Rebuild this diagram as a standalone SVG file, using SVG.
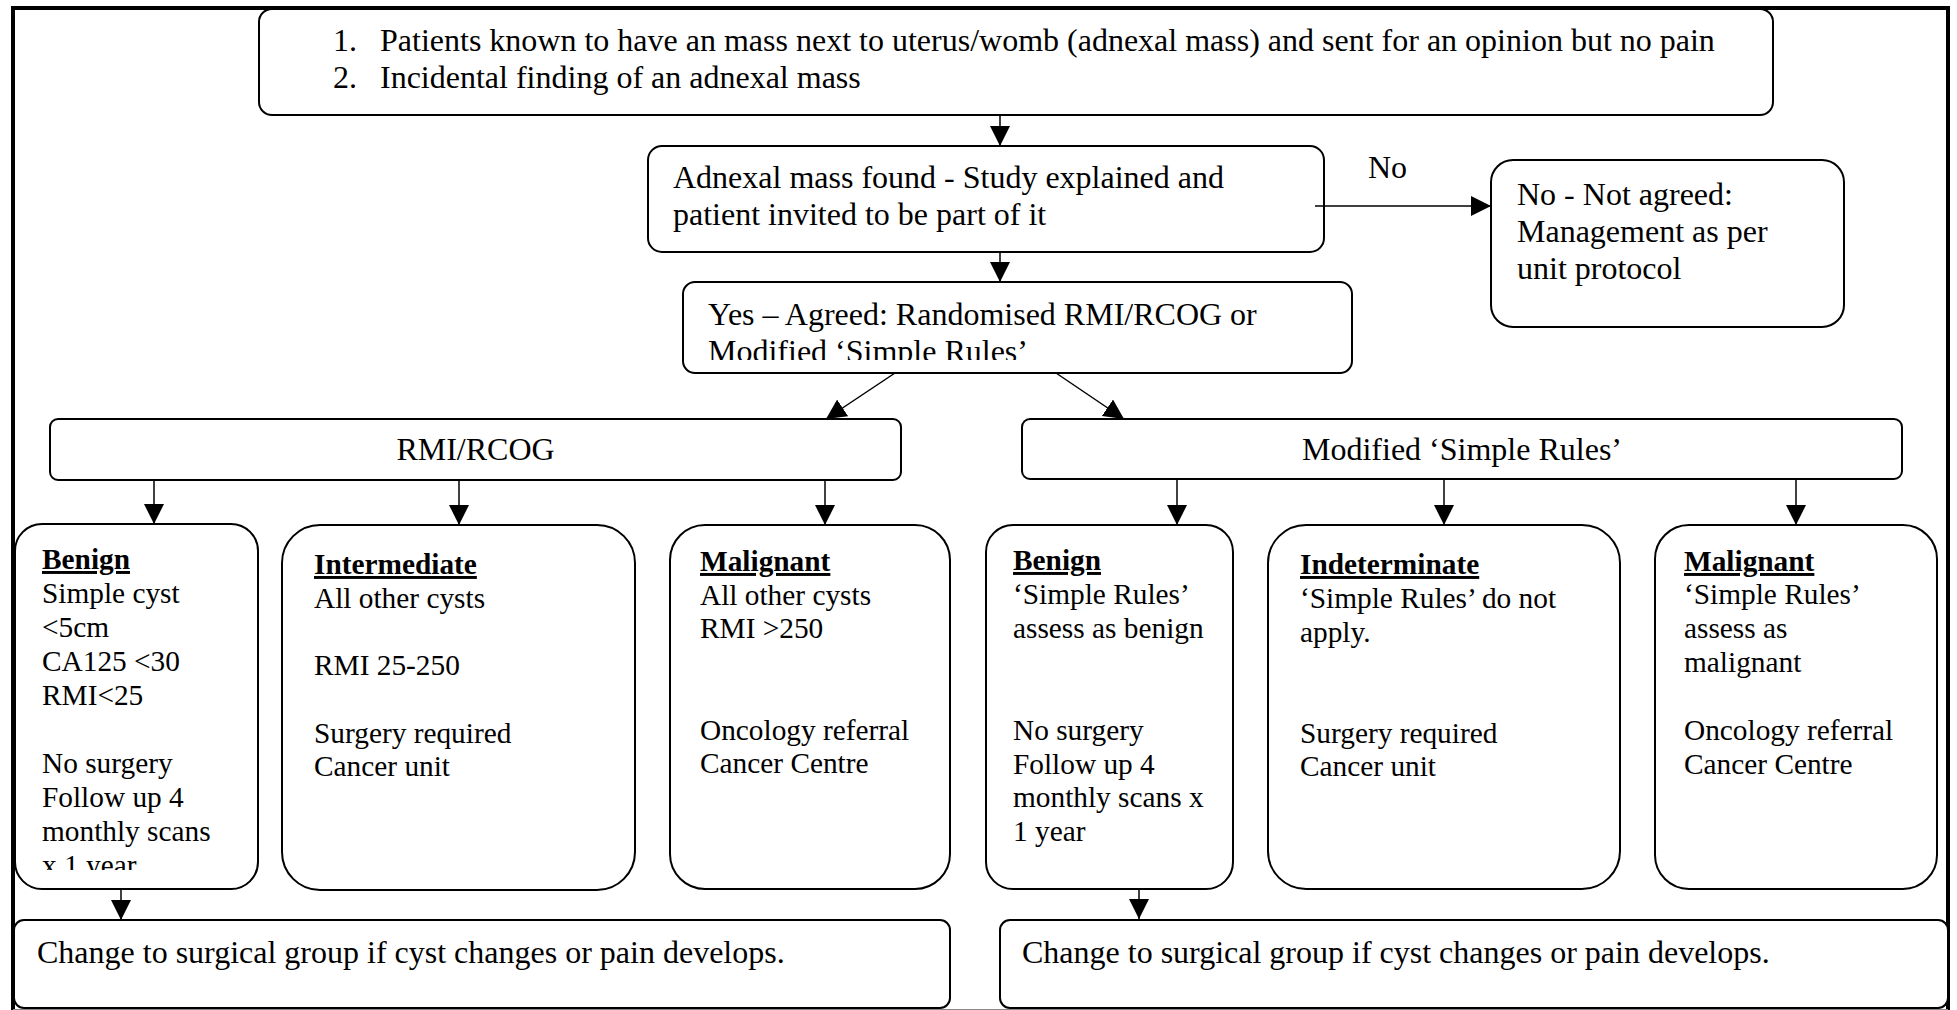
<svg xmlns="http://www.w3.org/2000/svg" width="1957" height="1010" viewBox="0 0 1957 1010">
  <style>
    .box{fill:#fff;stroke:#000;stroke-width:2}
    .t{font-family:"Liberation Serif","Times New Roman",serif;font-size:32px;fill:#000}
    .s{font-family:"Liberation Serif","Times New Roman",serif;font-size:29.33px;fill:#000}
    .h{font-weight:bold;text-decoration:underline;text-decoration-thickness:2.5px;text-underline-offset:5px}
    .c{text-anchor:middle}
    .conn{stroke:#000;stroke-width:1.5;fill:none;marker-end:url(#ah)}
  </style>
  <defs>
    <marker id="ah" markerUnits="userSpaceOnUse" viewBox="0 0 20 20" markerWidth="20" markerHeight="20" refX="20" refY="10" orient="auto">
      <path d="M0,0 L20,10 L0,20 z" fill="#000"/>
    </marker>
    <clipPath id="clipYes"><rect x="683" y="282" width="669" height="78"/></clipPath>
    <clipPath id="clipBenign1"><rect x="15" y="524" width="243" height="346"/></clipPath>
  </defs>

  <rect width="1957" height="1010" fill="#fff"/>

  <!-- page frame -->
  <g id="frame">
    <path d="M13,1010 V8 H1948 V1010" fill="none" stroke="#000" stroke-width="4"/>
    <line x1="13" y1="1009.5" x2="1948" y2="1009.5" stroke="#888" stroke-width="1"/>
  </g>

  <g id="referral">
    <rect class="box" x="259" y="9" width="1514" height="106" rx="13"/>
    <text class="t" x="333" y="51">1.</text>
    <text class="t" x="380" y="51">Patients known to have an mass next to uterus/womb (adnexal mass) and sent for an opinion but no pain</text>
    <text class="t" x="333" y="88">2.</text>
    <text class="t" x="380" y="88">Incidental finding of an adnexal mass</text>
  </g>

  <g id="invite">
    <rect class="box" x="648" y="146" width="676" height="106" rx="14"/>
    <text class="t" x="673" y="188">Adnexal mass found - Study explained and</text>
    <text class="t" x="673" y="225">patient invited to be part of it</text>
  </g>

  <g id="declined">
    <rect class="box" x="1491" y="160" width="353" height="167" rx="22"/>
    <text class="t" x="1517" y="205">No - Not agreed:</text>
    <text class="t" x="1517" y="242">Management as per</text>
    <text class="t" x="1517" y="279">unit protocol</text>
  </g>

  <g id="agreed">
    <rect class="box" x="683" y="282" width="669" height="91" rx="12"/>
    <g clip-path="url(#clipYes)">
      <text class="t" x="708" y="325">Yes – Agreed: Randomised RMI/RCOG or</text>
      <text class="t" x="708" y="362">Modified ‘Simple Rules’</text>
    </g>
  </g>

  <g id="rmi">
    <rect class="box" x="50" y="419" width="851" height="61" rx="8"/>
    <text class="t c" x="475.5" y="460">RMI/RCOG</text>
  </g>

  <g id="simple-rules">
    <rect class="box" x="1022" y="419" width="880" height="60" rx="8"/>
    <text class="t c" x="1462" y="460">Modified ‘Simple Rules’</text>
  </g>

  <g id="rmi-benign">
    <rect class="box" x="15" y="524" width="243" height="365" rx="27"/>
    <g clip-path="url(#clipBenign1)">
      <text class="s h" x="42" y="569">Benign</text>
      <text class="s" x="42" y="603">Simple cyst</text>
      <text class="s" x="42" y="637">&lt;5cm</text>
      <text class="s" x="42" y="671">CA125 &lt;30</text>
      <text class="s" x="42" y="705">RMI&lt;25</text>
      <text class="s" x="42" y="773">No surgery</text>
      <text class="s" x="42" y="807">Follow up 4</text>
      <text class="s" x="42" y="841">monthly scans</text>
      <text class="s" x="42" y="875">x 1 year</text>
    </g>
  </g>

  <g id="rmi-intermediate">
    <rect class="box" x="282" y="525" width="353" height="365" rx="38"/>
    <text class="s h" x="314" y="574">Intermediate</text>
    <text class="s" x="314" y="608">All other cysts</text>
    <text class="s" x="314" y="675">RMI 25-250</text>
    <text class="s" x="314" y="743">Surgery required</text>
    <text class="s" x="314" y="776">Cancer unit</text>
  </g>

  <g id="rmi-malignant">
    <rect class="box" x="670" y="525" width="280" height="364" rx="35"/>
    <text class="s h" x="700" y="571">Malignant</text>
    <text class="s" x="700" y="605">All other cysts</text>
    <text class="s" x="700" y="638">RMI &gt;250</text>
    <text class="s" x="700" y="740">Oncology referral</text>
    <text class="s" x="700" y="773">Cancer Centre</text>
  </g>

  <g id="sr-benign">
    <rect class="box" x="986" y="525" width="247" height="364" rx="27"/>
    <text class="s h" x="1013" y="570">Benign</text>
    <text class="s" x="1013" y="604">‘Simple Rules’</text>
    <text class="s" x="1013" y="638">assess as benign</text>
    <text class="s" x="1013" y="740">No surgery</text>
    <text class="s" x="1013" y="774">Follow up 4</text>
    <text class="s" x="1013" y="807">monthly scans x</text>
    <text class="s" x="1013" y="841">1 year</text>
  </g>

  <g id="sr-indeterminate">
    <rect class="box" x="1268" y="525" width="352" height="364" rx="38"/>
    <text class="s h" x="1300" y="574">Indeterminate</text>
    <text class="s" x="1300" y="608">‘Simple Rules’ do not</text>
    <text class="s" x="1300" y="642">apply.</text>
    <text class="s" x="1300" y="743">Surgery required</text>
    <text class="s" x="1300" y="776">Cancer unit</text>
  </g>

  <g id="sr-malignant">
    <rect class="box" x="1655" y="525" width="282" height="364" rx="34"/>
    <text class="s h" x="1684" y="571">Malignant</text>
    <text class="s" x="1684" y="604">‘Simple Rules’</text>
    <text class="s" x="1684" y="638">assess as</text>
    <text class="s" x="1684" y="672">malignant</text>
    <text class="s" x="1684" y="740">Oncology referral</text>
    <text class="s" x="1684" y="774">Cancer Centre</text>
  </g>

  <g id="rmi-change">
    <rect class="box" x="14" y="920" width="936" height="88" rx="10"/>
    <text class="t" x="37" y="963">Change to surgical group if cyst changes or pain develops.</text>
  </g>

  <g id="sr-change">
    <rect class="box" x="1000" y="920" width="948" height="88" rx="10"/>
    <text class="t" x="1022" y="963">Change to surgical group if cyst changes or pain develops.</text>
  </g>

  <!-- connectors -->
  <g id="connectors">
    <line class="conn" x1="1000" y1="115" x2="1000" y2="146"/>
    <line class="conn" x1="1000" y1="252" x2="1000" y2="282"/>
    <line class="conn" x1="1315" y1="206" x2="1491" y2="206"/>
    <text class="t" x="1368" y="178">No</text>
    <line class="conn" x1="895" y1="373" x2="826" y2="419"/>
    <line class="conn" x1="1056" y1="373" x2="1124" y2="419"/>
    <line class="conn" x1="154" y1="480" x2="154" y2="524"/>
    <line class="conn" x1="459" y1="480" x2="459" y2="525"/>
    <line class="conn" x1="825" y1="480" x2="825" y2="525"/>
    <line class="conn" x1="1177" y1="479" x2="1177" y2="525"/>
    <line class="conn" x1="1444" y1="479" x2="1444" y2="525"/>
    <line class="conn" x1="1796" y1="479" x2="1796" y2="525"/>
    <line class="conn" x1="121" y1="889" x2="121" y2="920"/>
    <line class="conn" x1="1139" y1="889" x2="1139" y2="919"/>
  </g>
</svg>
